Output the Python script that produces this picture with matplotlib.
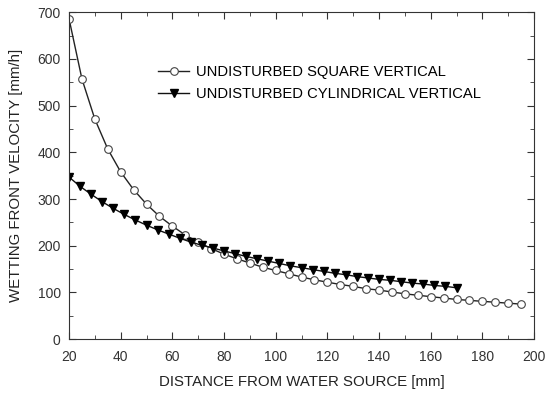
import matplotlib
matplotlib.use("Agg")
import matplotlib.pyplot as plt
from matplotlib.ticker import MultipleLocator

plt.rcParams['font.family'] = ['Liberation Sans', 'DejaVu Sans']

# undisturbed square vertical
sq_x = [20, 25, 30, 35, 40, 45, 50, 55, 60, 65, 70, 75, 80, 85, 90, 95, 100,
        105, 110, 115, 120, 125, 130, 135, 140, 145, 150, 155, 160, 165, 170,
        175, 180, 185, 190, 195]
sq_y = [686, 557, 471, 407, 358, 320, 289, 263, 242, 223, 208, 194, 182, 172,
        163, 154, 147, 140, 133, 127, 122, 117, 113, 108, 105, 101, 97, 94, 91,
        88, 85, 83, 81, 79, 77, 75]

# undisturbed cylindrical vertical
cy_x = [20.0, 24.3, 28.6, 32.9, 37.1, 41.4, 45.7, 50.0, 54.3, 58.6, 62.9, 67.1,
        71.4, 75.7, 80.0, 84.3, 88.6, 92.9, 97.1, 101.4, 105.7, 110.0, 114.3,
        118.6, 122.9, 127.1, 131.4, 135.7, 140.0, 144.3, 148.6, 152.9, 157.1,
        161.4, 165.7, 170.0]
cy_y = [347, 327, 310, 294, 280, 267, 255, 244, 234, 225, 216, 208, 201, 195,
        189, 183, 177, 172, 167, 162, 157, 153, 149, 145, 141, 138, 134, 131,
        128, 126, 123, 120, 118, 115, 113, 110]

fig = plt.figure(figsize=(5.5, 3.93), dpi=100)
ax = fig.add_axes([0.1255, 0.137, 0.8455, 0.832])

ax.plot(sq_x, sq_y, color='#222222', lw=1.0, marker='o', ms=5.5,
        mfc='white', mec='#444444', mew=0.8, label='UNDISTURBED SQUARE VERTICAL')
ax.plot(cy_x, cy_y, color='#111111', lw=1.0, marker='v', ms=5.5,
        mfc='black', mec='black', label='UNDISTURBED CYLINDRICAL VERTICAL')

ax.set_xlim(20, 200)
ax.set_ylim(0, 700)
ax.xaxis.set_major_locator(MultipleLocator(20))
ax.xaxis.set_minor_locator(MultipleLocator(10))
ax.yaxis.set_major_locator(MultipleLocator(100))
ax.yaxis.set_minor_locator(MultipleLocator(50))
ax.tick_params(which='both', direction='in', top=True, right=True,
               labelsize=10, colors='#333333', pad=6)
ax.tick_params(axis='x', pad=7.5)
ax.tick_params(which='major', length=5)
ax.tick_params(which='minor', length=3)
for s in ax.spines.values():
    s.set_color('#333333')

ax.set_xlabel('DISTANCE FROM WATER SOURCE [mm]', fontsize=10.8, color='#222222', labelpad=8)
ax.set_ylabel('WETTING FRONT VELOCITY [mm/h]', fontsize=10.8, color='#222222', labelpad=10)

ax.legend(loc='upper left', bbox_to_anchor=(0.163, 0.88), frameon=False,
          fontsize=10.6, handlelength=2.1, handletextpad=0.5, labelspacing=0.55)

fig.savefig('out.png', dpi=100)
